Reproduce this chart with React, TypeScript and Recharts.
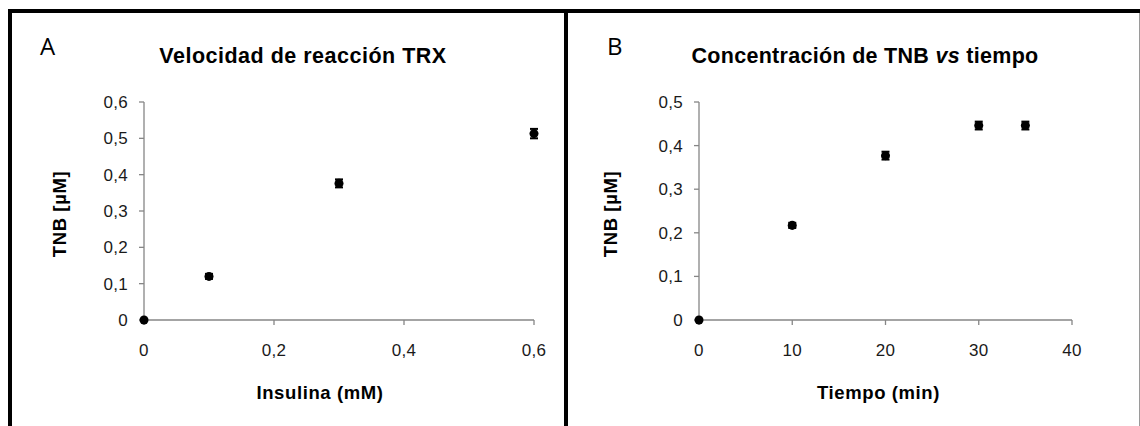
import React from 'react';
import { ScatterChart, Scatter, XAxis, YAxis, ZAxis, ErrorBar, Label } from 'recharts';

// Panel A: Velocidad de reacción TRX
const insulina = [0, 0.1, 0.3, 0.6];
const tnbA = [0, 0.12, 0.376, 0.513];
const errA: (number | null)[] = [null, 0.007, 0.011, 0.013];
const xTicksA = [0, 0.2, 0.4, 0.6];
const yTicksA = [0, 0.1, 0.2, 0.3, 0.4, 0.5, 0.6];

// Panel B: Concentración de TNB vs tiempo
const tiempo = [0, 10, 20, 30, 35];
const tnbB = [0, 0.217, 0.377, 0.446, 0.446];
const errB: (number | null)[] = [null, 0.006, 0.009, 0.009, 0.009];
const xTicksB = [0, 10, 20, 30, 40];
const yTicksB = [0, 0.1, 0.2, 0.3, 0.4, 0.5];

const dataA = insulina.map((x, i) => ({ x, y: tnbA[i], e: errA[i] }));
const dataB = tiempo.map((x, i) => ({ x, y: tnbB[i], e: errB[i] }));

const FONT = '"Liberation Sans", Arial, sans-serif';
const AXIS = '#868686';

const fmt = (v: number) => (v === 0 ? '0' : String(Math.round(v * 10) / 10).replace('.', ','));

const tickStyle = { fontSize: 17, fill: '#1a1a1a', fontFamily: FONT, letterSpacing: 0.3 };

const yTitle = (fromAxis: number) => (props: any) => {
  const vb = props.viewBox || {};
  const cx = vb.x + vb.width - fromAxis;
  const cy = vb.y + vb.height / 2 + 3;
  return (
    <text
      x={cx}
      y={cy}
      transform={`rotate(-90 ${cx} ${cy})`}
      textAnchor="middle"
      dominantBaseline="central"
      fontFamily={FONT}
      fontWeight="bold"
      fontSize={18.5}
      letterSpacing={0.6}
      fill="#000"
    >
      TNB [µM]
    </text>
  );
};

const xTitle = (text: string, shift: number, base: number) => (props: any) => {
  const vb = props.viewBox || {};
  const cx = vb.x + vb.width / 2 + shift;
  const cy = vb.y + base;
  return (
    <text x={cx} y={cy} textAnchor="middle" fontFamily={FONT} fontWeight="bold" fontSize={18.5} letterSpacing={0.6} fill="#000">
      {text}
    </text>
  );
};

function Panel(props: {
  data: any[];
  xTicks: number[];
  yTicks: number[];
  xMax: number;
  yMax: number;
  width: number;
  yAxisWidth: number;
  right: number;
  xLabel: string;
  xShift: number;
  yFrom: number;
}) {
  return (
    <ScatterChart
      width={props.width}
      height={426}
      margin={{ top: 102, right: props.right, bottom: 0, left: 0 }}
      style={{ fontFamily: FONT }}
    >
      <XAxis
        type="number"
        dataKey="x"
        domain={[0, props.xMax]}
        ticks={props.xTicks}
        tickFormatter={fmt}
        height={426 - 102 - 218}
        axisLine={{ stroke: AXIS, strokeWidth: 1.3 }}
        tickLine={{ stroke: AXIS, strokeWidth: 1.3 }}
        tickSize={5}
        tickMargin={19}
        tick={tickStyle}
        interval={0}
      >
        <Label content={xTitle(props.xLabel, props.xShift, 79)} />
      </XAxis>
      <YAxis
        type="number"
        dataKey="y"
        domain={[0, props.yMax]}
        ticks={props.yTicks}
        tickFormatter={fmt}
        width={props.yAxisWidth}
        axisLine={{ stroke: AXIS, strokeWidth: 1.3 }}
        tickLine={{ stroke: AXIS, strokeWidth: 1.3 }}
        tickSize={5}
        tickMargin={11}
        tick={tickStyle}
        interval={0}
      >
        <Label content={yTitle(props.yFrom)} />
      </YAxis>
      <ZAxis range={[24, 24]} />
      <Scatter data={props.data} fill="#000" shape="circle" isAnimationActive={false}>
        <ErrorBar dataKey="e" direction="y" width={4} stroke="#000" strokeWidth={2} />
      </Scatter>
    </ScatterChart>
  );
}

export default function App() {
  return (
    <div
      style={{
        position: 'absolute',
        left: 0,
        top: 0,
        width: 1140,
        height: 426,
        background: '#fff',
        overflow: 'hidden',
        fontFamily: FONT,
      }}
    >
      <div style={{ position: 'absolute', left: 0, top: 0 }}>
        <Panel
          data={dataA}
          xTicks={xTicksA}
          yTicks={yTicksA}
          xMax={0.6}
          yMax={0.6}
          width={565}
          yAxisWidth={144}
          right={31}
          xLabel="Insulina (mM)"
          xShift={-19}
          yFrom={85}
        />
      </div>
      <div style={{ position: 'absolute', left: 565, top: 0 }}>
        <Panel
          data={dataB}
          xTicks={xTicksB}
          yTicks={yTicksB}
          xMax={40}
          yMax={0.5}
          width={575}
          yAxisWidth={134}
          right={68}
          xLabel="Tiempo (min)"
          xShift={-7}
          yFrom={89}
        />
      </div>
      <svg width={1140} height={426} style={{ position: 'absolute', left: 0, top: 0, pointerEvents: 'none' }}>
        <text x={40} y={55} fontFamily='"Open Sans", sans-serif' fontSize={24} fill="#000">
          A
        </text>
        <text x={303} y={63} textAnchor="middle" fontFamily={FONT} fontWeight="bold" fontSize={21.5} letterSpacing={0.5} fill="#000">
          Velocidad de reacción TRX
        </text>
        <text x={607} y={55} fontFamily='"Open Sans", sans-serif' fontSize={24} fill="#000">
          B
        </text>
        <text x={865} y={63} textAnchor="middle" fontFamily={FONT} fontWeight="bold" fontSize={21.5} letterSpacing={0.3} fill="#000">
          Concentración de TNB <tspan fontStyle="italic">vs</tspan> tiempo
        </text>
      </svg>
      <div style={{ position: 'absolute', left: 8, top: 9, width: 1132, height: 4, background: '#000' }} />
      <div style={{ position: 'absolute', left: 8, top: 9, width: 4, height: 417, background: '#000' }} />
      <div style={{ position: 'absolute', left: 564, top: 9, width: 4, height: 417, background: '#000' }} />
      <div style={{ position: 'absolute', left: 1139, top: 13, width: 1, height: 413, background: '#9a9a9a' }} />
    </div>
  );
}
